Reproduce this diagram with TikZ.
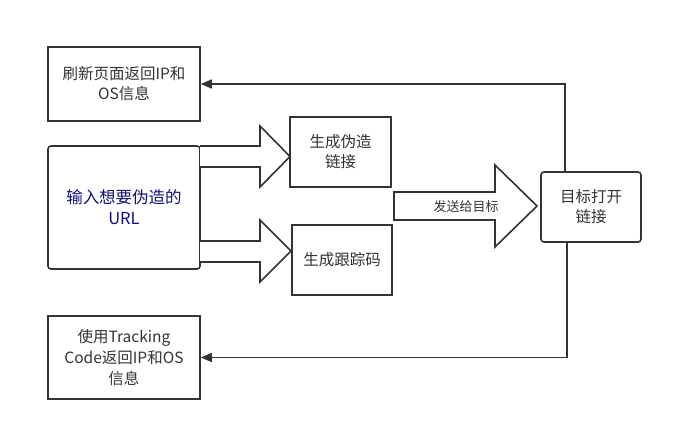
\documentclass[tikz,border=0pt]{standalone}
\usepackage{fontspec}
\setmainfont{Noto Sans CJK SC}
\usetikzlibrary{arrows.meta,calc}
\definecolor{ln}{HTML}{333333}
\definecolor{txt}{HTML}{333333}
\definecolor{navytxt}{HTML}{10107A}
\tikzset{
  box/.style={draw=ln, line width=1.6pt, fill=white, inner sep=0pt, align=center,
    text=txt, font=\fontsize{15.5}{20}\selectfont},
  rbox/.style={box, rounded corners=3pt},
  conn/.style={draw=ln, line width=1.6pt, -{Triangle[length=11pt,width=9pt]}},
  bigarrow/.style={draw=ln, line width=1.6pt, fill=white, line join=miter},
}
\begin{document}
\begin{tikzpicture}[x=1pt,y=-1pt]
\useasboundingbox (0,0) rectangle (673,432);
\node[box, minimum width=152pt, minimum height=74pt] (A) at (124,84) {刷新页面返回IP和\\OS信息};
\node[rbox, minimum width=152pt, minimum height=123pt, text=navytxt, font=\fontsize{16.5}{21}\selectfont] (B) at (124,207.5) {输入想要伪造的\\URL};
\node[box, minimum width=101pt, minimum height=70pt] (C) at (340.5,152) {生成伪造\\链接};
\node[box, minimum width=100pt, minimum height=70pt] (D) at (342,260) {生成跟踪码};
\node[rbox, minimum width=100pt, minimum height=70pt] (E) at (591,207) {目标打开\\链接};
\node[box, minimum width=152pt, minimum height=83pt, font=\fontsize{15.5}{21}\selectfont] (F) at (124,357.5) {使用Tracking\\Code返回IP和OS\\信息};
% big arrows
\draw[bigarrow] (200,146) -- (260,146) -- (260,126) -- (290,156.5) -- (260,187) -- (260,167) -- (200,167);
\draw[bigarrow] (200,241) -- (260,241) -- (260,220) -- (291,251) -- (260,282) -- (260,262) -- (200,262);
\draw[bigarrow] (394,192) -- (495,192) -- (495,165) -- (537,206) -- (495,247) -- (495,220) -- (394,220) -- cycle;
\node[text=txt, font=\fontsize{13}{16}\selectfont] (L) at (466,207) {发送给目标};
% connectors
\draw[conn] ($(E.north west)+(25,0)$) |- (A.east);
\draw[conn] ($(E.south west)+(27,0)$) |- (F.east);
\end{tikzpicture}
\end{document}
